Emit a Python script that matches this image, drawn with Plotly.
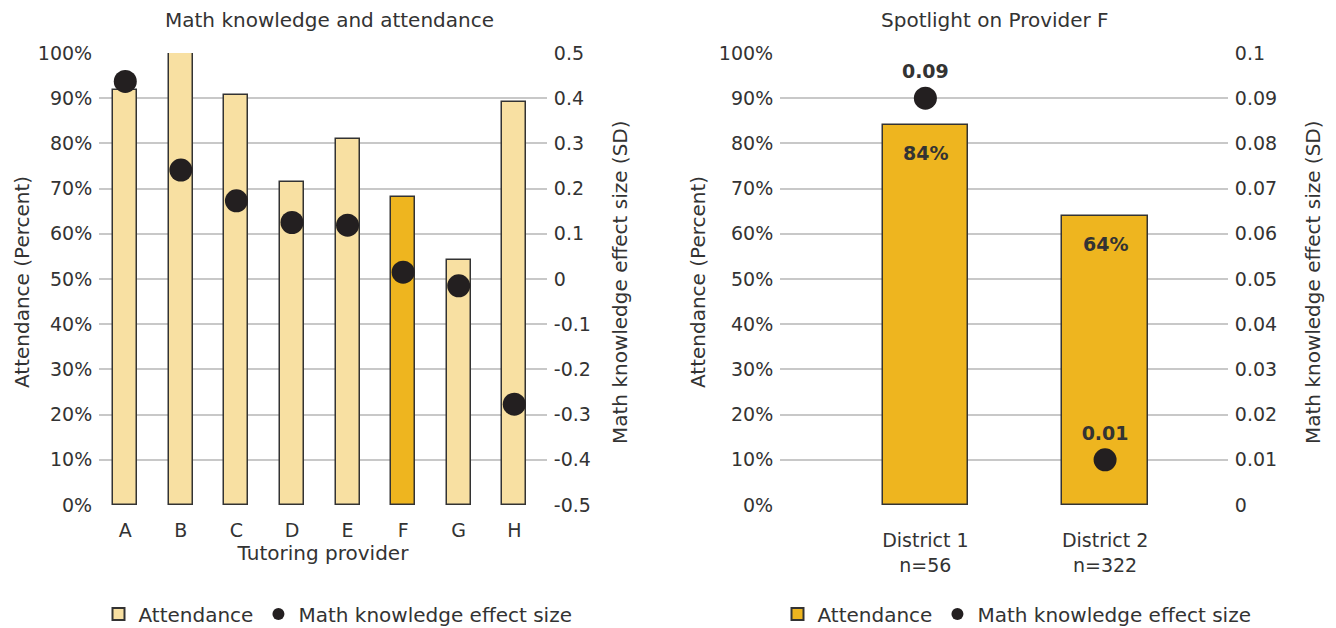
import plotly.graph_objects as go

# ---- data ----
providers = ["A", "B", "C", "D", "E", "F", "G", "H"]
attendance = [91.8, 100.0, 90.6, 71.4, 80.9, 68.1, 54.2, 89.1]
effect_size = [0.437, 0.241, 0.173, 0.125, 0.119, 0.015, -0.015, -0.277]
highlight = "F"

districts = ["District 1<br>n=56", "District 2<br>n=322"]
district_attendance = [84, 64]
district_effect = [0.09, 0.01]

pct_ticks = list(range(0, 101, 10))
left_es_ticks = [-0.5, -0.4, -0.3, -0.2, -0.1, 0, 0.1, 0.2, 0.3, 0.4, 0.5]
left_es_text = ["-0.5", "-0.4", "-0.3", "-0.2", "-0.1", "0", "0.1", "0.2", "0.3", "0.4", "0.5"]
right_es_ticks = [0, 0.01, 0.02, 0.03, 0.04, 0.05, 0.06, 0.07, 0.08, 0.09, 0.1]
right_es_text = ["0", "0.01", "0.02", "0.03", "0.04", "0.05", "0.06", "0.07", "0.08", "0.09", "0.1"]

# ---- style ----
LIGHT = "#F8E0A2"
GOLD = "#EEB51F"
DOT = "#231F20"
OUTLINE = "#333333"
TXT = "#333333"
GRID = "#C8C8C8"
FONT = "DejaVu Sans, Noto Sans, sans-serif"
FS = 19      # tick labels
FT = 20      # titles, legend

OFF = 8      # page body margin
W, H = 1336 - OFF, 628 - OFF
ML, MR, MT, MB = 99 - OFF, 108, 53 - OFF, 123
PW = W - ML - MR
PH = H - MT - MB

def px_x(p):
    return (p - OFF - ML) / PW

def px_y(p):
    return (H - MB - (p - OFF)) / PH

fig = go.Figure()

bar_colors = [GOLD if p == highlight else LIGHT for p in providers]

fig.add_trace(go.Bar(
    x=providers, y=attendance, xaxis="x", yaxis="y",
    marker=dict(color=bar_colors, line=dict(color=OUTLINE, width=1.5)),
    width=0.43, name="Attendance", legend="legend",
    hoverinfo="skip",
))
fig.add_trace(go.Scatter(
    x=providers, y=effect_size, xaxis="x", yaxis="y2",
    mode="markers", marker=dict(color=DOT, size=23),
    name="Math knowledge effect size", legend="legend",
    hoverinfo="skip",
))

fig.add_trace(go.Bar(
    x=districts, y=district_attendance, xaxis="x2", yaxis="y3",
    marker=dict(color=GOLD, line=dict(color=OUTLINE, width=1.5)),
    width=0.474, name="Attendance", legend="legend2",
    hoverinfo="skip",
))
fig.add_trace(go.Scatter(
    x=districts, y=district_effect, xaxis="x2", yaxis="y4",
    mode="markers+text", marker=dict(color=DOT, size=23),
    text=[f"<b>{v}</b>" for v in district_effect],
    textposition="top center",
    textfont=dict(size=FS, color=TXT, family=FONT),
    name="Math knowledge effect size", legend="legend2",
    hoverinfo="skip",
))

tickfont = dict(size=FS, color=TXT, family=FONT)
titlefont = dict(size=FT, color=TXT, family=FONT)
hide_tick = dict(ticks="outside", tickcolor="rgba(0,0,0,0)")

fig.update_layout(
    width=W, height=H,
    margin=dict(l=ML, r=MR, t=MT, b=MB, autoexpand=False),
    plot_bgcolor="white", paper_bgcolor="white",
    font=dict(family=FONT, size=FS, color=TXT),
    bargap=0,
    xaxis=dict(domain=[0, px_x(547)], range=[-0.473, 7.589], type="category",
               showgrid=False, zeroline=False, showline=False,
               ticklen=8, tickfont=tickfont, automargin=False,
               title=dict(text="Tutoring provider", font=titlefont, standoff=0),
               anchor="y", fixedrange=True, **hide_tick),
    yaxis=dict(domain=[0, 1], range=[0, 100], tickvals=pct_ticks,
               ticktext=[f"{v}%" for v in pct_ticks],
               showgrid=True, gridcolor=GRID, gridwidth=1.5, zeroline=False,
               showline=False, ticklen=2, tickfont=tickfont, anchor="x",
               automargin=False, **hide_tick),
    yaxis2=dict(domain=[0, 1], range=[-0.5, 0.5], tickvals=left_es_ticks,
                ticktext=left_es_text, overlaying="y", side="right",
                showgrid=False, zeroline=False, showline=False,
                ticklen=2, tickfont=tickfont, anchor="x", automargin=False, **hide_tick),
    xaxis2=dict(domain=[px_x(780), 1], range=[-0.809, 1.684], type="category",
                showgrid=False, zeroline=False, showline=False,
                ticklen=18, tickfont=tickfont, anchor="y3", fixedrange=True,
                automargin=False, **hide_tick),
    yaxis3=dict(domain=[0, 1], range=[0, 100], tickvals=pct_ticks,
                ticktext=[f"{v}%" for v in pct_ticks],
                showgrid=True, gridcolor=GRID, gridwidth=1.5, zeroline=False,
                showline=False, ticklen=2, tickfont=tickfont, anchor="x2",
                automargin=False, **hide_tick),
    yaxis4=dict(domain=[0, 1], range=[0, 0.1], tickvals=right_es_ticks,
                ticktext=right_es_text, overlaying="y3", side="right",
                showgrid=False, zeroline=False, showline=False,
                ticklen=2, tickfont=tickfont, anchor="x2", automargin=False, **hide_tick),
    legend=dict(orientation="h", x=px_x(338), xanchor="center",
                y=px_y(614), yanchor="middle", font=titlefont,
                bgcolor="rgba(0,0,0,0)", itemclick=False, itemsizing="constant"),
    legend2=dict(orientation="h", x=px_x(1017), xanchor="center",
                 y=px_y(614), yanchor="middle", font=titlefont,
                 bgcolor="rgba(0,0,0,0)", itemclick=False, itemsizing="constant"),
    showlegend=True,
)

def ann(text, xp, yp, angle=0):
    return dict(text=text, x=px_x(xp), y=px_y(yp), textangle=angle,
                xref="paper", yref="paper", xanchor="center", yanchor="middle",
                showarrow=False, font=titlefont)

annotations = [
    ann("Math knowledge and attendance", 329, 20),
    ann("Spotlight on Provider F", 995, 20),
    ann("Attendance (Percent)", 22, 282, -90),
    ann("Math knowledge effect size (SD)", 620, 282, -90),
    ann("Attendance (Percent)", 698, 282, -90),
    ann("Math knowledge effect size (SD)", 1313, 282, -90),
]
# bar value labels inside the bars, near the top
for d, v in zip(districts, district_attendance):
    annotations.append(dict(text=f"<b>{v}%</b>", x=d, y=v, xref="x2", yref="y3",
                            yanchor="middle", yshift=-28, showarrow=False,
                            font=dict(size=FS, color=TXT, family=FONT)))
fig.update_layout(annotations=annotations)

fig.write_html("out.html")
